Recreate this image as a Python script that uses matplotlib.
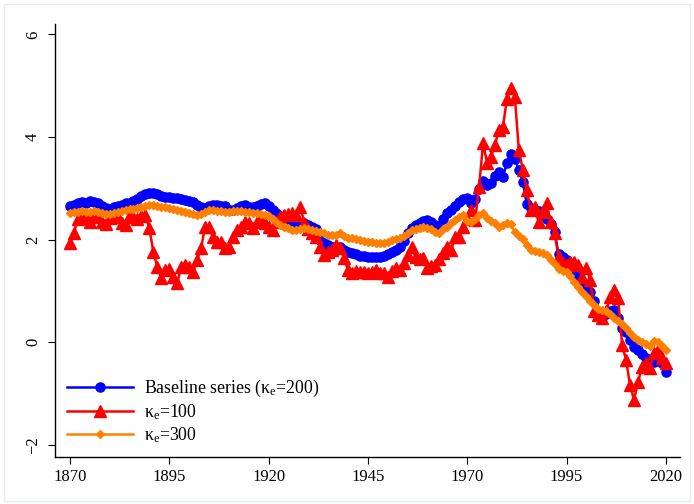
import numpy as np
import matplotlib.pyplot as plt
from matplotlib.patches import Rectangle

plt.rcParams['font.family'] = ['Liberation Serif', 'DejaVu Serif']
plt.rcParams['mathtext.fontset'] = 'custom'
plt.rcParams['mathtext.rm'] = 'Liberation Serif'
plt.rcParams['mathtext.it'] = 'Liberation Serif'

years = np.arange(1870, 2021)

# baseline series (kappa_e = 200)
baseline = [
    2.65, 2.68, 2.72, 2.74, 2.72, 2.75, 2.74, 2.72, 2.66, 2.62,
    2.60, 2.63, 2.65, 2.68, 2.72, 2.72, 2.75, 2.80, 2.86, 2.88,
    2.90, 2.91, 2.88, 2.86, 2.84, 2.83, 2.82, 2.82, 2.80, 2.78,
    2.76, 2.73, 2.68, 2.63, 2.62, 2.65, 2.67, 2.67, 2.66, 2.66,
    2.58, 2.57, 2.62, 2.66, 2.67, 2.64, 2.63, 2.65, 2.70, 2.72,
    2.65, 2.58, 2.52, 2.46, 2.42, 2.40, 2.34, 2.32, 2.33, 2.32,
    2.28, 2.24, 2.20, 2.00, 1.93, 1.90, 1.85, 1.86, 1.85, 1.80,
    1.76, 1.73, 1.72, 1.68, 1.68, 1.66, 1.67, 1.66, 1.66, 1.68,
    1.72, 1.75, 1.80, 1.85, 1.98, 2.12, 2.22, 2.28, 2.32, 2.36,
    2.38, 2.34, 2.28, 2.24, 2.40, 2.52, 2.58, 2.65, 2.74, 2.80,
    2.82, 2.72, 2.80, 2.98, 3.14, 3.06, 3.10, 3.25, 3.32, 3.22,
    3.50, 3.66, 3.58, 3.36, 3.12, 2.70, 2.62, 2.58, 2.55, 2.50,
    2.40, 2.30, 2.15, 1.72, 1.66, 1.60, 1.48, 1.38, 1.28, 1.18,
    1.10, 0.98, 0.80, 0.58, 0.50, 0.55, 0.60, 0.62, 0.48, 0.28,
    0.20, 0.05, -0.10, -0.16, -0.22, -0.30, -0.35, -0.38, -0.35, -0.40,
    -0.58,
]

# kappa_e = 100
k100 = [
    1.93, 2.13, 2.40, 2.45, 2.42, 2.35, 2.44, 2.48, 2.34, 2.30,
    2.42, 2.45, 2.44, 2.32, 2.28, 2.48, 2.44, 2.40, 2.46, 2.48,
    2.22, 1.76, 1.47, 1.25, 1.40, 1.42, 1.27, 1.15, 1.47, 1.50,
    1.47, 1.37, 1.60, 1.83, 2.24, 2.24, 2.05, 1.95, 1.95, 1.83,
    1.85, 2.05, 2.18, 2.25, 2.34, 2.32, 2.22, 2.34, 2.40, 2.32,
    2.25, 2.18, 2.35, 2.44, 2.48, 2.50, 2.52, 2.48, 2.64, 2.32,
    2.20, 2.12, 2.05, 1.85, 1.70, 1.76, 1.80, 1.89, 1.83, 1.64,
    1.40, 1.35, 1.38, 1.37, 1.36, 1.35, 1.36, 1.40, 1.35, 1.34,
    1.27, 1.38, 1.44, 1.40, 1.55, 1.70, 1.85, 1.66, 1.62, 1.64,
    1.44, 1.48, 1.50, 1.62, 1.73, 1.85, 1.80, 2.05, 2.05, 2.24,
    2.40, 2.58, 2.38, 3.03, 3.88, 3.50, 3.62, 3.85, 4.14, 4.20,
    4.74, 4.95, 4.78, 3.75, 3.36, 2.97, 2.58, 2.63, 2.34, 2.54,
    2.71, 2.34, 2.13, 1.66, 1.54, 1.50, 1.56, 1.56, 1.50, 1.27,
    1.44, 1.21, 0.60, 0.53, 0.47, 0.60, 0.88, 1.01, 0.86, -0.05,
    -0.35, -0.84, -1.12, -0.78, -0.49, -0.41, -0.51, -0.21, -0.16, -0.31,
    -0.41,
]

# kappa_e = 300
k300 = [
    2.52, 2.53, 2.54, 2.55, 2.54, 2.53, 2.55, 2.54, 2.52, 2.49,
    2.50, 2.52, 2.54, 2.55, 2.58, 2.59, 2.60, 2.62, 2.64, 2.66,
    2.67, 2.67, 2.66, 2.64, 2.63, 2.61, 2.59, 2.57, 2.55, 2.54,
    2.52, 2.50, 2.48, 2.50, 2.54, 2.57, 2.58, 2.56, 2.55, 2.54,
    2.53, 2.55, 2.56, 2.55, 2.54, 2.54, 2.52, 2.51, 2.49, 2.48,
    2.46, 2.40, 2.34, 2.28, 2.24, 2.22, 2.19, 2.19, 2.21, 2.22,
    2.20, 2.18, 2.16, 2.14, 2.12, 2.10, 2.09, 2.10, 2.12, 2.08,
    2.04, 2.03, 2.01, 1.99, 1.98, 1.96, 1.95, 1.94, 1.93, 1.94,
    1.96, 1.99, 2.01, 2.04, 2.08, 2.13, 2.18, 2.20, 2.23, 2.24,
    2.23, 2.20, 2.14, 2.12, 2.20, 2.25, 2.32, 2.38, 2.44, 2.48,
    2.36, 2.34, 2.40, 2.48, 2.52, 2.42, 2.36, 2.32, 2.24, 2.28,
    2.32, 2.30, 2.14, 2.08, 2.02, 1.90, 1.80, 1.78, 1.76, 1.73,
    1.70, 1.60, 1.52, 1.42, 1.38, 1.36, 1.30, 1.18, 1.08, 0.98,
    0.90, 0.80, 0.72, 0.65, 0.62, 0.60, 0.55, 0.48, 0.42, 0.36,
    0.28, 0.18, 0.10, 0.05, 0.00, -0.03, -0.07, 0.03, 0.00, -0.08,
    -0.16,
]

xticks = [1870, 1895, 1920, 1945, 1970, 1995, 2020]
yticks = [-2, 0, 2, 4, 6]

fig = plt.figure(figsize=(6.94, 5.04), dpi=100)
ax = fig.add_axes([0.079, 0.093, 0.901, 0.859])

ax.plot(years, baseline, color='#0000ff', lw=1.8, marker='o', ms=6.6,
        label='Baseline series (κ$_e$=200)')
ax.plot(years, k100, color='#ff0000', lw=1.8, marker='^', ms=8,
        label='κ$_e$=100')
ax.plot(years, k300, color='#ff8000', lw=1.8, marker='D', ms=4.2,
        label='κ$_e$=300')

ax.set_xlim(1866.2, 2023.6)
ax.set_ylim(-2.24, 6.2)
ax.set_xticks(xticks)
ax.set_yticks(yticks)
ax.tick_params(labelsize=12, length=5, width=0.8, direction='out')
ax.tick_params(axis='y', pad=5)
for lab in ax.get_yticklabels():
    lab.set_rotation(90)
    lab.set_va('center')

for s in ['top', 'right']:
    ax.spines[s].set_visible(False)
for s in ['left', 'bottom']:
    ax.spines[s].set_linewidth(1.0)

ax.legend(loc='lower left', bbox_to_anchor=(0.0, 0.0), frameon=False,
          fontsize=12.8, handlelength=3.7, handletextpad=0.6,
          labelspacing=0.18, borderaxespad=0.3)

# faint frame around the whole graph region
fig.patches.append(Rectangle((0.006, 0.006), 0.988, 0.986, transform=fig.transFigure,
                             fill=False, edgecolor='#e8ecef', lw=1.0))

fig.savefig('out.png', dpi=100)
